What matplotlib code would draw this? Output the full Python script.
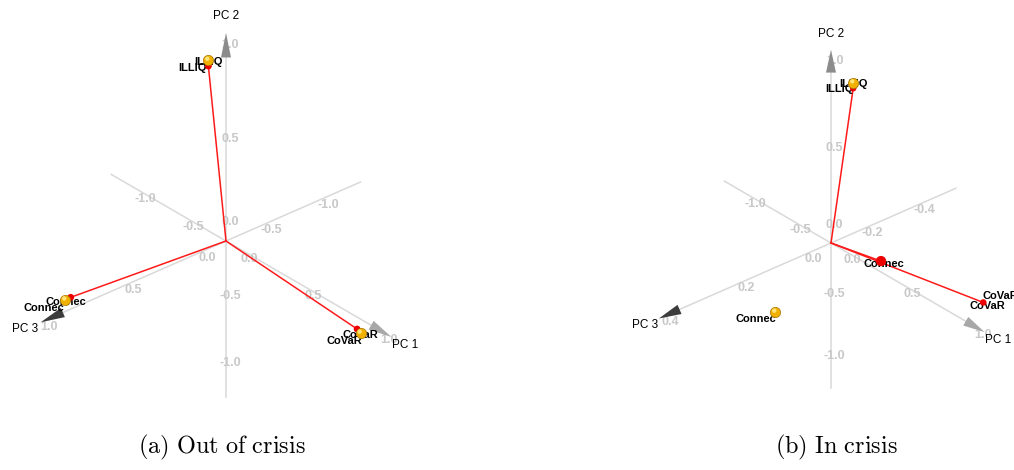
import numpy as np
import matplotlib
matplotlib.use("Agg")
import matplotlib.pyplot as plt

plt.rcParams["font.family"] = ["Liberation Sans", "DejaVu Sans"]
plt.rcParams["mathtext.fontset"] = "cm"

variables = ["CoVaR", "ILLIQ", "Connec"]

out_red = [[0.99, -0.02, 0.05], [-0.05, 0.99, 0.07], [0.02, 0.08, 0.99]]
out_yellow = [[1.02, -0.02, 0.06], [-0.05, 1.02, 0.07], [0.02, 0.08, 1.02]]
in_red = [[1.0, 0.02, -0.07], [0.13, 0.97, -0.016], [0.34, 0.0, -0.033]]
in_yellow = [[1.15, 0.15, -0.10], [0.13, 1.0, -0.016], [0.10, -0.21, 0.204]]

out_ticks = [[-1.0, -0.5, 0.0, 0.5, 1.0],
             [-1.0, -0.5, 0.0, 0.5, 1.0],
             [-1.0, -0.5, 0.0, 0.5, 1.0]]
in_ticks = [[-1.0, -0.5, 0.0, 0.5, 1.0],
            [-1.0, -0.5, 0.0, 0.5, 1.0],
            [-0.4, -0.2, 0.0, 0.2, 0.4]]
axis_names = ["PC 1", "PC 2", "PC 3"]

# camera of the 3d viewer
az, el, dist = np.radians(41), np.radians(30.3), 4.4
view = np.array([np.cos(el) * np.cos(az), np.sin(el), np.cos(el) * np.sin(az)])
up = np.array([0.0, 1.0, 0.0]) - view[1] * view
up /= np.linalg.norm(up)
right = np.cross(up, view)


def project(q, k):
    q = np.asarray(q, float)
    w = 1 - q @ view / dist
    return k * (q @ right) / w, k * (q @ up) / w


def draw_panel(ax, red, yellow, ticks, k, stretch, red_off, yel_off, red_size):
    stretch = np.asarray(stretch, float)
    f = k / 182.0
    tick_off = [(23 * f, -18 * f), (4 * f, 19 * f), (-19 * f, -17 * f)]
    arrow_col = ["#a8a8a8", "#8c8c8c", "#3c3c3c"]
    for i in range(3):
        e = np.zeros(3)
        e[i] = 1
        x0, y0 = project(-1.12 * e, k)
        x1, y1 = project(1.12 * e, k)
        ax.plot([x0, x1], [y0, y1], color="#d9d9d9", lw=1.1, zorder=1)
        # cone at the positive end
        tx, ty = project(1.15 * e, k)
        bx, by = project(1.03 * e, k)
        d = np.array([tx - bx, ty - by])
        n = np.array([-d[1], d[0]]) / np.hypot(*d) * 5
        ax.fill([tx, bx + n[0], bx - n[0]], [ty, by + n[1], by - n[1]],
                color=arrow_col[i], zorder=2, lw=0)
        for t in ticks[i]:
            x, y = project(t * stretch[i] * e, k)
            ax.text(x + tick_off[i][0], y + tick_off[i][1], f"{t:.1f}",
                    color="#c8c8c8", fontsize=9, fontweight="bold",
                    ha="center", va="center", zorder=1)
        x, y = project(1.23 * e, k)
        ax.text(x, y, axis_names[i], fontsize=8.5, ha="center", va="center",
                color="black", zorder=6)

    for j, name in enumerate(variables):
        x, y = project(np.asarray(red[j]) * stretch, k)
        ax.plot([0, x], [0, y], color="#ff1a1a", lw=1.1, zorder=3)
        ax.text(x + red_off[j][0], y + red_off[j][1], name, fontsize=8,
                fontweight="bold", ha="center", va="center", zorder=4)
        ax.scatter([x], [y], s=red_size[j], color="#ee0000",
                   edgecolors="none", zorder=5)
        xs, ys = project(np.asarray(yellow[j]) * stretch, k)
        ax.text(xs + yel_off[j][0], ys + yel_off[j][1], name, fontsize=8,
                fontweight="bold", ha="center", va="center", zorder=4)
        ax.scatter([xs], [ys], s=55, color="#f0b000", edgecolors="#a87400",
                   linewidths=0.5, zorder=7)
        ax.scatter([xs - 1], [ys + 1.2], s=10, color="#ffe47a",
                   edgecolors="none", zorder=8)


fig = plt.figure(figsize=(10.14, 4.70), dpi=100)
W, H = 1014, 470

ax1 = fig.add_axes([0, 50 / H, 507 / W, 420 / H])
ax1.set_xlim(-226, 281)
ax1.set_ylim(-179, 241)
ax1.axis("off")
draw_panel(ax1, out_red, out_yellow, out_ticks, 182, [1, 1, 1],
           red_off=[(-13, -12), (-16, -2), (-27, -11)],
           yel_off=[(0, -2), (0, -2), (1, -2)],
           red_size=[24, 24, 24])

ax2 = fig.add_axes([507 / W, 50 / H, 507 / W, 420 / H])
ax2.set_xlim(-324, 183)
ax2.set_ylim(-177, 243)
ax2.axis("off")
draw_panel(ax2, in_red, in_yellow, in_ticks, 169, [1, 1, 2.45],
           red_off=[(4, -4), (-14, -1), (3, -3)],
           yel_off=[(-19, -7), (0, -1), (-19, -7)],
           red_size=[22, 22, 55])

fig.text(222 / W, 1 - 447 / H, r"$\mathrm{(a)\ Out\ of\ crisis}$",
         fontsize=17.5, ha="center", va="center")
fig.text(836 / W, 1 - 447 / H, r"$\mathrm{(b)\ In\ crisis}$",
         fontsize=17.5, ha="center", va="center")

fig.savefig("out.png", dpi=100)
